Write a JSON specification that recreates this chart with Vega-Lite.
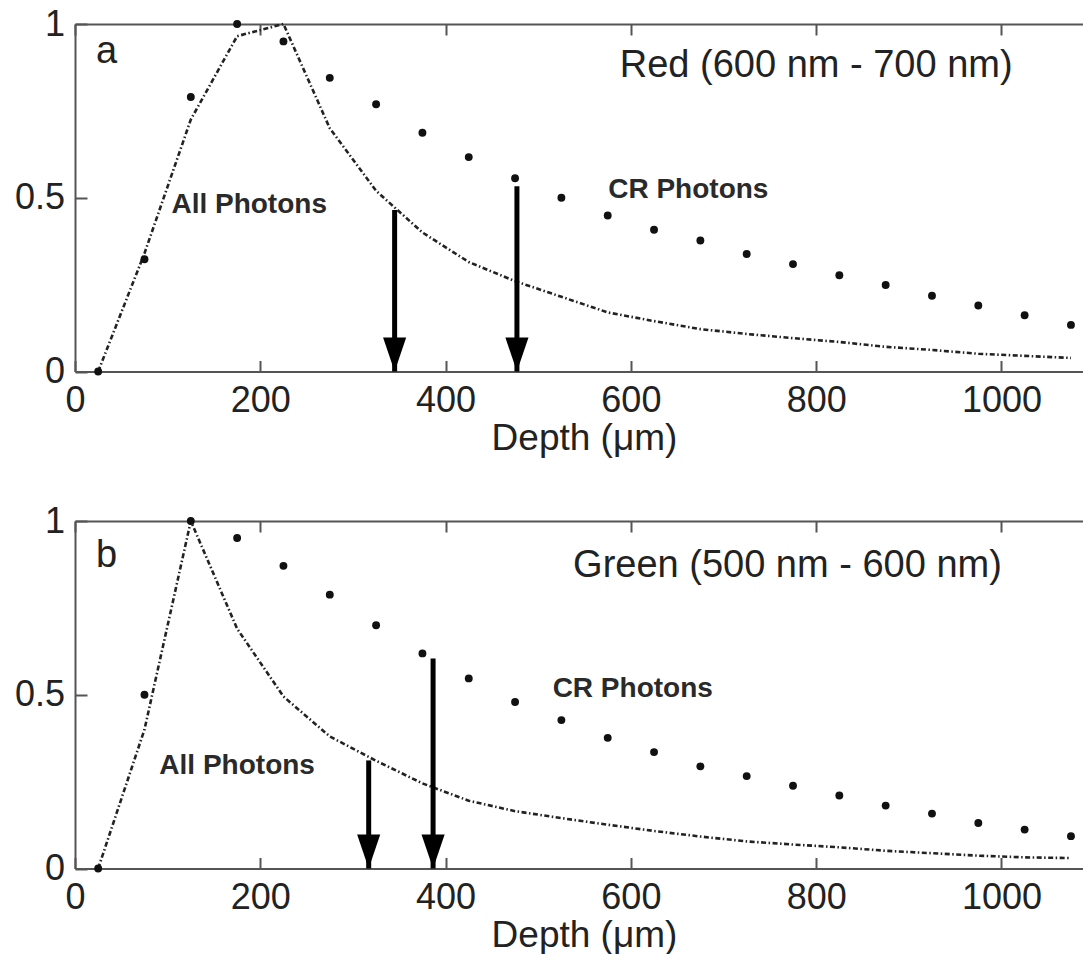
{
  "$schema": "https://vega.github.io/schema/vega-lite/v6.json",
  "padding": {"left": 14, "top": 6, "right": 0, "bottom": 0},
  "bounds": "flush",
  "spacing": 149,
  "datasets": {
    "red_cr": [
      {"d": 25, "v": 0}, {"d": 75, "v": 0.323}, {"d": 125, "v": 0.79}, {"d": 175, "v": 1.0},
      {"d": 225, "v": 0.95}, {"d": 275, "v": 0.845}, {"d": 325, "v": 0.769}, {"d": 375, "v": 0.687},
      {"d": 425, "v": 0.617}, {"d": 475, "v": 0.556}, {"d": 525, "v": 0.5}, {"d": 575, "v": 0.449},
      {"d": 625, "v": 0.408}, {"d": 675, "v": 0.377}, {"d": 725, "v": 0.338}, {"d": 775, "v": 0.309},
      {"d": 825, "v": 0.277}, {"d": 875, "v": 0.249}, {"d": 925, "v": 0.218}, {"d": 975, "v": 0.19},
      {"d": 1025, "v": 0.162}, {"d": 1075, "v": 0.134}
    ],
    "red_all": [
      {"d": 25, "v": 0}, {"d": 75, "v": 0.34}, {"d": 125, "v": 0.725}, {"d": 175, "v": 0.965},
      {"d": 225, "v": 1.0}, {"d": 275, "v": 0.7}, {"d": 325, "v": 0.52}, {"d": 375, "v": 0.4},
      {"d": 425, "v": 0.315}, {"d": 475, "v": 0.26}, {"d": 525, "v": 0.215}, {"d": 575, "v": 0.17},
      {"d": 625, "v": 0.145}, {"d": 675, "v": 0.122}, {"d": 725, "v": 0.108}, {"d": 775, "v": 0.096},
      {"d": 825, "v": 0.085}, {"d": 875, "v": 0.071}, {"d": 925, "v": 0.062}, {"d": 975, "v": 0.051},
      {"d": 1025, "v": 0.045}, {"d": 1075, "v": 0.039}
    ],
    "red_arrows": [{"d": 345, "v": 0.465}, {"d": 477, "v": 0.533}],
    "red_labels": [{"d": 34, "v": 0.888, "t": "a"}, {"d": 800, "v": 0.847, "t": "Red (600 nm - 700 nm)"}],
    "red_series": [{"d": 188, "v": 0.456, "t": "All Photons"}, {"d": 662, "v": 0.5, "t": "CR Photons"}],
    "green_cr": [
      {"d": 25, "v": 0}, {"d": 75, "v": 0.5}, {"d": 125, "v": 1.0}, {"d": 175, "v": 0.951},
      {"d": 225, "v": 0.871}, {"d": 275, "v": 0.788}, {"d": 325, "v": 0.7}, {"d": 375, "v": 0.619},
      {"d": 425, "v": 0.547}, {"d": 475, "v": 0.479}, {"d": 525, "v": 0.427}, {"d": 575, "v": 0.376},
      {"d": 625, "v": 0.335}, {"d": 675, "v": 0.294}, {"d": 725, "v": 0.266}, {"d": 775, "v": 0.238},
      {"d": 825, "v": 0.21}, {"d": 875, "v": 0.181}, {"d": 925, "v": 0.158}, {"d": 975, "v": 0.131},
      {"d": 1025, "v": 0.112}, {"d": 1075, "v": 0.093}
    ],
    "green_all": [
      {"d": 25, "v": 0}, {"d": 75, "v": 0.4}, {"d": 125, "v": 1.0}, {"d": 175, "v": 0.69},
      {"d": 225, "v": 0.495}, {"d": 275, "v": 0.38}, {"d": 325, "v": 0.31}, {"d": 375, "v": 0.245},
      {"d": 425, "v": 0.195}, {"d": 475, "v": 0.165}, {"d": 525, "v": 0.145}, {"d": 575, "v": 0.126},
      {"d": 625, "v": 0.108}, {"d": 675, "v": 0.092}, {"d": 725, "v": 0.078}, {"d": 775, "v": 0.069},
      {"d": 825, "v": 0.061}, {"d": 875, "v": 0.051}, {"d": 925, "v": 0.044}, {"d": 975, "v": 0.037},
      {"d": 1025, "v": 0.032}, {"d": 1075, "v": 0.03}
    ],
    "green_arrows": [{"d": 317, "v": 0.311}, {"d": 386.5, "v": 0.604}],
    "green_labels": [{"d": 34, "v": 0.868, "t": "b"}, {"d": 769, "v": 0.839, "t": "Green (500 nm - 600 nm)"}],
    "green_series": [{"d": 175, "v": 0.273, "t": "All Photons"}, {"d": 602, "v": 0.494, "t": "CR Photons"}]
  },
  "vconcat": [
    {
      "width": 1008,
      "height": 347.5,
      "layer": [
        {
          "data": {"name": "red_all"},
          "mark": {"type": "line", "strokeDash": [5, 2.5, 1.5, 2.5], "strokeWidth": 2.6, "color": "#222"},
          "encoding": {
            "x": {"field": "d", "type": "quantitative", "scale": {"domain": [0, 1088], "nice": false},
                  "axis": {"orient": "bottom", "values": [0, 200, 400, 600, 800, 1000], "format": "d", "tickSize": -11, "labelPadding": 23, "labelFlush": false, "title": "Depth (μm)", "titleBaseline": "alphabetic", "titleY": 78, "titleX": 509}},
            "y": {"field": "v", "type": "quantitative", "scale": {"domain": [0, 1], "nice": false},
                  "axis": {"values": [0, 0.5, 1], "format": "~g", "tickSize": -12, "labelPadding": 22.5, "title": null}}
          }
        },
        {
          "data": {"name": "red_cr"},
          "mark": {"type": "point", "filled": true, "size": 62, "color": "#111", "opacity": 1},
          "encoding": {
            "x": {"field": "d", "type": "quantitative", "axis": {"orient": "top", "values": [0, 200, 400, 600, 800, 1000], "tickSize": -11, "labels": false, "title": null}},
            "y": {"field": "v", "type": "quantitative", "title": null}
          }
        },
        {
          "data": {"name": "red_arrows"},
          "mark": {"type": "rule", "strokeWidth": 5, "color": "#000"},
          "encoding": {
            "x": {"field": "d", "type": "quantitative", "axis": null},
            "y": {"field": "v", "type": "quantitative", "title": null},
            "y2": {"datum": 0}
          }
        },
        {
          "data": {"name": "red_arrows"},
          "mark": {"type": "point", "shape": "M-0.68,-2L0.68,-2L0,0Z", "size": 1156, "filled": true, "color": "#000", "opacity": 1},
          "encoding": {
            "x": {"field": "d", "type": "quantitative", "axis": null},
            "y": {"datum": 0, "type": "quantitative", "title": null}
          }
        },
        {
          "data": {"name": "red_labels"},
          "mark": {"type": "text", "fontSize": 38, "align": "center", "baseline": "alphabetic", "color": "#222"},
          "encoding": {
            "x": {"field": "d", "type": "quantitative", "axis": null},
            "y": {"field": "v", "type": "quantitative", "title": null},
            "text": {"field": "t"}
          }
        },
        {
          "data": {"name": "red_series"},
          "mark": {"type": "text", "fontSize": 28, "fontWeight": "bold", "align": "center", "baseline": "alphabetic", "color": "#2a2a2a"},
          "encoding": {
            "x": {"field": "d", "type": "quantitative", "axis": null},
            "y": {"field": "v", "type": "quantitative", "title": null},
            "text": {"field": "t"}
          }
        }
      ],
      "resolve": {"axis": {"x": "independent"}}
    },
    {
      "width": 1008,
      "height": 347.5,
      "layer": [
        {
          "data": {"name": "green_all"},
          "mark": {"type": "line", "strokeDash": [5, 2.5, 1.5, 2.5], "strokeWidth": 2.6, "color": "#222"},
          "encoding": {
            "x": {"field": "d", "type": "quantitative", "scale": {"domain": [0, 1088], "nice": false},
                  "axis": {"orient": "bottom", "values": [0, 200, 400, 600, 800, 1000], "format": "d", "tickSize": -11, "labelPadding": 23, "labelFlush": false, "title": "Depth (μm)", "titleBaseline": "alphabetic", "titleY": 78, "titleX": 509}},
            "y": {"field": "v", "type": "quantitative", "scale": {"domain": [0, 1], "nice": false},
                  "axis": {"values": [0, 0.5, 1], "format": "~g", "tickSize": -12, "labelPadding": 22.5, "title": null}}
          }
        },
        {
          "data": {"name": "green_cr"},
          "mark": {"type": "point", "filled": true, "size": 62, "color": "#111", "opacity": 1},
          "encoding": {
            "x": {"field": "d", "type": "quantitative", "axis": {"orient": "top", "values": [0, 200, 400, 600, 800, 1000], "tickSize": -11, "labels": false, "title": null}},
            "y": {"field": "v", "type": "quantitative", "title": null}
          }
        },
        {
          "data": {"name": "green_arrows"},
          "mark": {"type": "rule", "strokeWidth": 5, "color": "#000"},
          "encoding": {
            "x": {"field": "d", "type": "quantitative", "axis": null},
            "y": {"field": "v", "type": "quantitative", "title": null},
            "y2": {"datum": 0}
          }
        },
        {
          "data": {"name": "green_arrows"},
          "mark": {"type": "point", "shape": "M-0.68,-2L0.68,-2L0,0Z", "size": 1156, "filled": true, "color": "#000", "opacity": 1},
          "encoding": {
            "x": {"field": "d", "type": "quantitative", "axis": null},
            "y": {"datum": 0, "type": "quantitative", "title": null}
          }
        },
        {
          "data": {"name": "green_labels"},
          "mark": {"type": "text", "fontSize": 38, "align": "center", "baseline": "alphabetic", "color": "#222"},
          "encoding": {
            "x": {"field": "d", "type": "quantitative", "axis": null},
            "y": {"field": "v", "type": "quantitative", "title": null},
            "text": {"field": "t"}
          }
        },
        {
          "data": {"name": "green_series"},
          "mark": {"type": "text", "fontSize": 28, "fontWeight": "bold", "align": "center", "baseline": "alphabetic", "color": "#2a2a2a"},
          "encoding": {
            "x": {"field": "d", "type": "quantitative", "axis": null},
            "y": {"field": "v", "type": "quantitative", "title": null},
            "text": {"field": "t"}
          }
        }
      ],
      "resolve": {"axis": {"x": "independent"}}
    }
  ],
  "config": {
    "font": "Liberation Sans",
    "view": {"stroke": null},
    "axis": {
      "grid": false,
      "domainColor": "#555",
      "domainWidth": 2,
      "tickColor": "#555",
      "tickWidth": 2,
      "labelFont": "Liberation Sans",
      "labelFontSize": 36,
      "labelColor": "#222",
      "titleFont": "Liberation Sans",
      "titleFontSize": 37,
      "titleFontWeight": "normal",
      "titleColor": "#222"
    }
  }
}
